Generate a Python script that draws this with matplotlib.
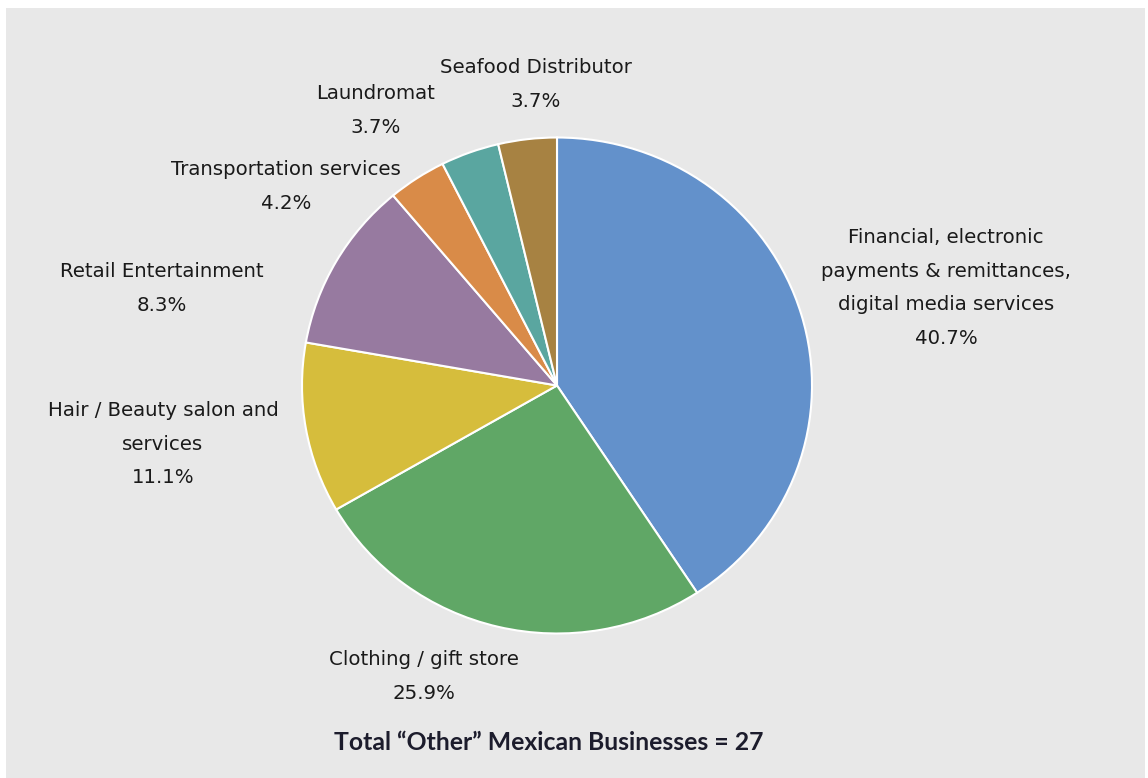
import matplotlib

matplotlib.use("Agg")
import matplotlib.pyplot as plt

# wedge sizes follow the business counts (total 27); label percentages as printed
categories = [
    "Financial, electronic\npayments & remittances,\ndigital media services",
    "Clothing / gift store",
    "Hair / Beauty salon and\nservices",
    "Retail Entertainment",
    "Transportation services",
    "Laundromat",
    "Seafood Distributor",
]
counts = [11, 7, 3, 3, 1, 1, 1]
pct_labels = ["40.7%", "25.9%", "11.1%", "8.3%", "4.2%", "3.7%", "3.7%"]
colors = ["#6391cb", "#60a766", "#d6bd3c", "#977aa0", "#d98b48", "#5aa6a0", "#a78242"]
total_label = "Total \u201cOther\u201d Mexican Businesses = 27"

W, H = 1148, 778
# label anchor (center x, top-line center y) in pixels
label_pos = [(946, 238), (424, 660), (163, 411), (162, 272), (286, 170), (376, 94), (536, 68)]

fig = plt.figure(figsize=(W / 100, H / 100), dpi=100)
fig.patch.set_facecolor("white")
bg = fig.add_axes([6 / W, 0, 1 - 9 / W, 1 - 8 / H])
bg.set_facecolor("#e8e8e8")
bg.set_xticks([])
bg.set_yticks([])
for s in bg.spines.values():
    s.set_visible(False)

# slightly squashed pie: x unit = 1px, y unit = rx/ry px
rx, ry = 255, 248
ax = fig.add_axes([0, 0, 1, 1])
ax.pie(
    counts,
    colors=colors,
    startangle=90,
    counterclock=False,
    center=(557, (H - 385.5) * rx / ry),
    radius=rx,
    frame=True,
    wedgeprops=dict(edgecolor="white", linewidth=1.5),
)
ax.set_aspect("auto")
ax.set_xlim(0, W)
ax.set_ylim(0, H * rx / ry)
ax.axis("off")

for name, pct, (x, y) in zip(categories, pct_labels, label_pos):
    fig.text(x / W, 1 - (y - 10) / H, name + "\n" + pct, ha="center", va="top",
             fontsize=14.2, family="DejaVu Sans", color="#1a1a1a", linespacing=1.97)

fig.text(549 / W, 1 - 743 / H, total_label, ha="center", va="center",
         fontsize=17.8, fontweight="bold", family="Lato", color="#1c1c2c")

plt.savefig("out.png", dpi=100)
